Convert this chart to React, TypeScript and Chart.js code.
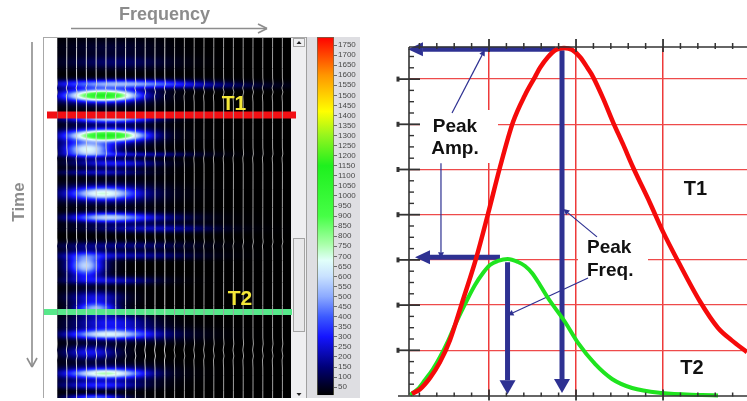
import React, { useEffect, useRef } from "react";
import { Chart, registerables } from "chart.js";
Chart.register(...registerables);

// ---------- spectrogram readings (frequency 0-234, time 0-360, intensity in colour-bar units)
const streakTime = [24, 9, 45, 47, 57, 57, 80, 97, 97, 111, 111, 116, 125, 134, 155, 155, 179, 179, 190, 207, 217, 227, 227, 242, 259, 270, 284, 296, 296, 314, 335, 335, 347, 359];
const streakFreq = [58, 53, 63, 133, 46, 43, 53, 50, 48, 30, 31, 73, 58, 43, 45, 48, 48, 83, 93, 63, 63, 28, 28, 53, 38, 38, 53, 48, 73, 33, 48, 48, 43, 38];
const streakFreqSpread = [40, 35, 50, 60, 22, 32, 30, 24, 32, 14, 22, 45, 30, 30, 20, 36, 25, 40, 45, 50, 50, 10, 16, 32, 20, 14, 28, 26, 40, 20, 24, 36, 28, 20];
const streakTimeSpread = [5, 6, 3, 2.5, 3.5, 6.5, 3, 3.5, 6.5, 4.5, 6, 2, 3, 2.5, 4, 7, 3.5, 3.5, 3, 3, 3, 7, 10, 3, 5, 4, 6, 3.2, 5, 5, 3, 6, 3, 2.5];
const streakLevel = [130, 70, 420, 120, 780, 360, 560, 780, 360, 400, 230, 200, 280, 220, 430, 280, 450, 180, 220, 150, 200, 320, 260, 220, 260, 480, 280, 470, 180, 280, 470, 280, 280, 380];
const traceFreqs = [0, 9.8, 19.6, 29.4, 39.2, 49, 58.8, 68.6, 78.4, 88.2, 98, 107.8, 117.6, 127.4, 137.2, 147, 156.8, 166.6, 176.4, 186.2, 196, 205.8, 215.6, 225.4];
const wiggleTimes = [0, 40, 46, 50, 54, 58, 64, 76, 110, 116, 120, 126, 160, 200, 204, 208, 212, 300, 306, 312, 318, 322, 330, 360];
const wiggleShift = [0, 0, 0.5, -0.5, 0.5, -0.4, 0, 0, 0, 0.4, -0.4, 0, 0, 0, 0.4, -0.4, 0, 0, 0.4, -0.4, 0.4, -0.3, 0, 0];
const bandT1Time = 77;
const bandT2Time = 274;

// ---------- colour bar
const colorValues = [0, 60, 150, 300, 400, 500, 600, 680, 760, 900, 1150, 1300, 1420, 1600, 1790];
const colorStops = [
  [0, 0, 0], [0, 0, 40], [0, 0, 120], [20, 20, 255], [60, 90, 255], [140, 170, 255], [200, 225, 255],
  [225, 255, 250], [170, 255, 170], [70, 255, 70], [30, 240, 30], [150, 245, 30], [255, 255, 0], [255, 150, 0], [255, 0, 0],
];
const colorTicks = [50, 100, 150, 200, 250, 300, 350, 400, 450, 500, 550, 600, 650, 700, 750, 800, 850, 900, 950, 1000, 1050, 1100, 1150, 1200, 1250, 1300, 1350, 1400, 1450, 1500, 1550, 1600, 1650, 1700, 1750];

// ---------- amplitude spectra
const t1Freq = [11.5, 20.7, 32.2, 43.7, 55.2, 69, 85, 98.9, 112.6, 127.6, 141.4, 152.9, 158.6, 167.8, 177, 186.2, 195.4, 204.6, 213.8, 219.5, 231, 242.5, 254, 265.5, 285, 300, 317, 342.5, 363, 379, 396.5];
const t1Amp = [0.04, 0.14, 0.39, 0.74, 1.23, 2.05, 3.02, 4.02, 5.05, 6.05, 6.65, 7.05, 7.25, 7.49, 7.65, 7.69, 7.65, 7.49, 7.23, 7.05, 6.58, 6.05, 5.56, 5.05, 4.26, 3.62, 2.98, 2.08, 1.5, 1.22, 0.96];
const t2Freq = [9.2, 18.4, 26.4, 35.6, 43.7, 52.9, 60.9, 75.9, 83.9, 93.1, 101.1, 110.3, 121.5, 133.3, 141.4, 149.4, 158.6, 167.8, 187.4, 202.3, 221.8, 241.4, 264.4, 298.9, 344.8, 363.2];
const t2Amp = [0.011, 0.144, 0.343, 0.586, 0.852, 1.206, 1.56, 2.157, 2.445, 2.71, 2.887, 2.976, 3.02, 2.954, 2.865, 2.71, 2.445, 2.157, 1.626, 1.162, 0.697, 0.365, 0.166, 0.055, 0.011, 0];
const xTicks = [20, 40, 60, 80, 100, 120, 140, 160, 180, 200, 220, 240, 260, 280, 300, 320, 340, 360, 380];
const yTicks = [0.25, 0.5, 0.75, 1, 1.25, 1.5, 1.75, 2, 2.25, 2.5, 2.75, 3, 3.25, 3.5, 3.75, 4, 4.25, 4.5, 4.75, 5, 5.25, 5.5, 5.75, 6, 6.25, 6.5, 6.75, 7, 7.25, 7.5];

const SANS = '"Liberation Sans", Arial, sans-serif';
const BLUE = "#2e3192";

function rampColor(v: number): number[] {
  if (v <= colorValues[0]) return colorStops[0];
  for (let i = 1; i < colorValues.length; i++) {
    if (v <= colorValues[i]) {
      const f = (v - colorValues[i - 1]) / (colorValues[i] - colorValues[i - 1]);
      return colorStops[i].map((c, k) => colorStops[i - 1][k] + (c - colorStops[i - 1][k]) * f);
    }
  }
  return colorStops[colorStops.length - 1];
}

function text(ctx: any, s: string, x: number, y: number, font: string, color: string, align: any = "center") {
  ctx.font = font;
  ctx.fillStyle = color;
  ctx.textAlign = align;
  ctx.textBaseline = "middle";
  ctx.fillText(s, x, y);
}

function seg(ctx: any, x1: number, y1: number, x2: number, y2: number) {
  ctx.beginPath();
  ctx.moveTo(x1, y1);
  ctx.lineTo(x2, y2);
  ctx.stroke();
}

// Panel furniture and intensity image of the spectrogram
const heatPlugin = {
  id: "heat",
  beforeDraw(chart: any) {
    const ctx = chart.ctx;
    ctx.save();
    ctx.fillStyle = "#fff";
    ctx.fillRect(0, 0, 747, 401);
    ctx.strokeStyle = "#a8a8a8";
    ctx.lineWidth = 1;
    seg(ctx, 43.5, 37, 43.5, 398);
    seg(ctx, 43, 37.5, 306, 37.5);
    ctx.fillStyle = "#efeff1";
    ctx.fillRect(291, 38, 15, 360);
    ctx.fillStyle = "#e8e8ea";
    ctx.strokeStyle = "#a4a4a4";
    ctx.fillRect(293.5, 238.5, 11, 93);
    ctx.strokeRect(293.5, 238.5, 11, 93);
    ctx.strokeRect(293.5, 38.5, 11, 8);
    ctx.fillStyle = "#222";
    ctx.beginPath(); ctx.moveTo(296.5, 44); ctx.lineTo(301.5, 44); ctx.lineTo(299, 41); ctx.fill();
    ctx.beginPath(); ctx.moveTo(296.5, 393); ctx.lineTo(301.5, 393); ctx.lineTo(299, 396); ctx.fill();
    // Frequency / Time direction arrows
    ctx.strokeStyle = "#8d8d8d";
    ctx.lineWidth = 1.6;
    seg(ctx, 71, 28.5, 267, 28.5);
    seg(ctx, 258, 24, 267, 28.5);
    seg(ctx, 258, 33, 267, 28.5);
    seg(ctx, 32, 42, 32, 367);
    seg(ctx, 27, 358, 32, 367);
    seg(ctx, 37, 358, 32, 367);
    text(ctx, "Frequency", 164.5, 15, `bold 18px ${SANS}`, "#8c8c8c");
    ctx.translate(19, 202);
    ctx.rotate(-Math.PI / 2);
    text(ctx, "Time", 0, 0, `bold 17px ${SANS}`, "#8c8c8c");
    ctx.restore();
  },
  beforeDatasetsDraw(chart: any) {
    const { ctx, chartArea: a, scales } = chart;
    const w = Math.round(a.right - a.left);
    const h = Math.round(a.bottom - a.top);
    const off = document.createElement("canvas");
    off.width = w;
    off.height = h;
    const oc = off.getContext("2d")!;
    const img = oc.createImageData(w, h);
    const blobs = chart.data.datasets[0].data.map((p: any) => ({
      cx: scales.x.getPixelForValue(p.x) - a.left,
      cy: scales.y.getPixelForValue(p.y) - a.top,
      sx: Math.abs(scales.x.getPixelForValue(p.x + p.sx) - scales.x.getPixelForValue(p.x)),
      sy: Math.abs(scales.y.getPixelForValue(p.y + p.sy) - scales.y.getPixelForValue(p.y)),
      v: p.v,
    }));
    for (let y = 0; y < h; y++) {
      for (let x = 0; x < w; x++) {
        let v = 0;
        for (const b of blobs) {
          const dx = (x - b.cx) / b.sx;
          const dy = (y - b.cy) / b.sy;
          v += b.v * Math.exp(-0.5 * (dx * dx + dy * dy));
        }
        const c = rampColor(v);
        const i = (y * w + x) * 4;
        img.data[i] = c[0];
        img.data[i + 1] = c[1];
        img.data[i + 2] = c[2];
        img.data[i + 3] = 255;
      }
    }
    oc.putImageData(img, 0, 0);
    ctx.drawImage(off, a.left, a.top);
  },
  afterDraw(chart: any) {
    const ctx = chart.ctx;
    ctx.save();
    text(ctx, "T1", 234, 104, `bold 21px ${SANS}`, "#f4e838");
    text(ctx, "T2", 240, 299, `bold 21px ${SANS}`, "#f4e838");
    ctx.restore();
  },
};

const colorPanelPlugin = {
  id: "colorPanel",
  beforeDraw(chart: any) {
    const ctx = chart.ctx;
    ctx.save();
    ctx.fillStyle = "#dedee2";
    ctx.fillRect(306, 37, 54, 361);
    ctx.strokeStyle = "#a0a0a0";
    ctx.lineWidth = 1;
    seg(ctx, 306.5, 37, 306.5, 398);
    ctx.restore();
  },
};

const spectrumPlugin = {
  id: "spectrum",
  beforeDatasetsDraw(chart: any) {
    const ctx = chart.ctx;
    ctx.save();
    ctx.fillStyle = "#fff";
    ctx.fillRect(420, 110, 78, 53);
    ctx.fillRect(578, 240, 70, 38);
    ctx.restore();
  },
  afterDatasetsDraw(chart: any) {
    const { ctx, chartArea: a, scales } = chart;
    ctx.save();
    // Arrow heads from each arrow dataset's last segment
    chart.data.datasets.forEach((ds: any) => {
      if (!ds.headLength) return;
      const p = ds.data[ds.data.length - 2];
      const q = ds.data[ds.data.length - 1];
      const x1 = scales.x.getPixelForValue(p.x);
      const y1 = scales.y.getPixelForValue(p.y);
      const x2 = scales.x.getPixelForValue(q.x);
      const y2 = scales.y.getPixelForValue(q.y);
      const ang = Math.atan2(y2 - y1, x2 - x1);
      const ux = Math.cos(ang), uy = Math.sin(ang);
      ctx.fillStyle = ds.borderColor;
      ctx.beginPath();
      ctx.moveTo(x2 + ux * ds.headLength, y2 + uy * ds.headLength);
      ctx.lineTo(x2 - uy * ds.headHalf, y2 + ux * ds.headHalf);
      ctx.lineTo(x2 + uy * ds.headHalf, y2 - ux * ds.headHalf);
      ctx.closePath();
      ctx.fill();
    });
    // Axis frame and inward ticks
    ctx.strokeStyle = "#333";
    ctx.lineWidth = 1.6;
    seg(ctx, a.left, a.top, a.right, a.top);
    seg(ctx, a.left, a.top, a.left, a.bottom);
    seg(ctx, 398, a.bottom + 0.5, a.right, a.bottom + 0.5);
    for (const t of scales.x.ticks) {
      const major = t.value % 100 === 0;
      const x = scales.x.getPixelForValue(t.value);
      ctx.lineWidth = major ? 1.8 : 1.5;
      seg(ctx, x, a.top - (major ? 8 : 4), x, a.top + (major ? 5 : 2));
      seg(ctx, x, a.bottom - (major ? 6 : 3), x, a.bottom + (major ? 5 : 1));
    }
    for (const t of scales.y.ticks) {
      const major = Number.isInteger(t.value);
      const y = scales.y.getPixelForValue(t.value);
      ctx.lineWidth = major ? 1.8 : 1.4;
      seg(ctx, major ? 399 : a.left, y, major ? 420 : a.left + 5, y);
      if (major) {
        ctx.lineWidth = 3;
        seg(ctx, 398, y - 2.5, 398, y + 2.5);
      }
    }
    const f = `bold 19px ${SANS}`;
    text(ctx, "Peak", 455, 127, f, "#111");
    text(ctx, "Amp.", 455, 149, f, "#111");
    text(ctx, "Peak", 587, 248, f, "#111", "left");
    text(ctx, "Freq.", 587, 271, f, "#111", "left");
    const g = `bold 20px ${SANS}`;
    text(ctx, "T1", 695.5, 189, g, "#111");
    text(ctx, "T2", 692, 368, g, "#111");
    ctx.restore();
  },
};

const arrow = (label: string, a: number[], b: number[], width: number, headLength: number, headHalf: number) => ({
  type: "line",
  label,
  data: [{ x: a[0], y: a[1] }, { x: b[0], y: b[1] }],
  borderColor: BLUE,
  borderWidth: width,
  pointRadius: 0,
  clip: false,
  headLength,
  headHalf,
});

const canvasStyle: React.CSSProperties = {
  position: "fixed",
  left: 0,
  top: 0,
  width: 747,
  height: 401,
  pointerEvents: "none",
  filter: "blur(0.45px)",
};

export default function App() {
  const heatRef = useRef<HTMLCanvasElement>(null);
  const barRef = useRef<HTMLCanvasElement>(null);
  const specRef = useRef<HTMLCanvasElement>(null);

  useEffect(() => {
    const traceColor = (i: number) => (i === 0 ? "#8a8a8a" : i < 12 ? "#d4d4d4" : "#a0a0a0");
    const heat = new Chart(heatRef.current!, {
      type: "scatter",
      data: {
        datasets: [
          {
            label: "Intensity",
            data: streakTime.map((t, i) => ({ x: streakFreq[i], y: t, sx: streakFreqSpread[i], sy: streakTimeSpread[i], v: streakLevel[i] })),
            pointRadius: 0,
            showLine: false,
          },
          ...traceFreqs.map((f, i) => ({
            type: "line",
            label: `trace ${i}`,
            data: wiggleTimes.map((t, k) => ({ x: f + wiggleShift[k], y: t })),
            borderColor: traceColor(i),
            borderWidth: 1,
            pointRadius: 0,
            tension: 0.3,
          })),
          {
            type: "line",
            label: "T1",
            data: [{ x: -10, y: bandT1Time }, { x: 239, y: bandT1Time }],
            borderColor: "#f20f14",
            borderWidth: 7,
            pointRadius: 0,
            clip: false,
          },
          {
            type: "line",
            label: "T2",
            data: [{ x: -13, y: bandT2Time }, { x: 235, y: bandT2Time }],
            borderColor: "#57e88a",
            borderWidth: 6,
            pointRadius: 0,
            clip: false,
          },
        ],
      } as any,
      options: {
        responsive: false,
        animation: false,
        devicePixelRatio: 1,
        layout: { padding: { left: 57, right: 747 - 291, top: 38, bottom: 3 } },
        plugins: { legend: { display: false }, tooltip: { enabled: false } },
        scales: {
          x: { type: "linear", min: 0, max: 234, display: false },
          y: { type: "linear", min: 0, max: 360, reverse: true, display: false },
        },
      },
      plugins: [heatPlugin],
    } as any);

    const bar = new Chart(barRef.current!, {
      type: "bar",
      data: {
        labels: ["scale"],
        datasets: [
          {
            label: "Colour scale",
            data: [[10, 1790]],
            borderColor: "#6a6a50",
            borderWidth: 1,
            barPercentage: 1,
            categoryPercentage: 1,
            backgroundColor: (c: any) => {
              const s = c.chart.scales.y;
              if (!s || !c.chart.chartArea) return "#000";
              const g = c.chart.ctx.createLinearGradient(0, s.getPixelForValue(10), 0, s.getPixelForValue(1790));
              colorValues.forEach((v, i) => {
                const [r, gg, b] = colorStops[i];
                g.addColorStop(Math.max(0, (v - 10) / 1780), `rgb(${r},${gg},${b})`);
              });
              return g;
            },
          },
        ],
      } as any,
      options: {
        responsive: false,
        animation: false,
        devicePixelRatio: 1,
        layout: { padding: { left: 317, right: 747 - 360, top: 37, bottom: 3 } },
        plugins: { legend: { display: false }, tooltip: { enabled: false } },
        scales: {
          x: { display: false },
          y: {
            position: "right",
            min: 10,
            max: 1790,
            afterBuildTicks: (s: any) => { s.ticks = colorTicks.map((value) => ({ value })); },
            afterFit: (s: any) => { s.width = 26; },
            border: { display: false },
            grid: { drawOnChartArea: false, tickLength: 3, color: "#6a6a6a" },
            ticks: { autoSkip: false, padding: 1, maxRotation: 0, color: "#4a4a4a", font: { size: 8, family: "Liberation Sans" }, callback: (v: any) => String(v) },
          },
        },
      },
      plugins: [colorPanelPlugin],
    } as any);

    const xy = (xs: number[], ys: number[]) => xs.map((x, i) => ({ x, y: ys[i] }));
    const spec = new Chart(specRef.current!, {
      type: "line",
      data: {
        datasets: [
          { label: "T1", data: xy(t1Freq, t1Amp), borderColor: "#f50a0a", borderWidth: 4.5, pointRadius: 0, cubicInterpolationMode: "monotone", clip: false },
          { label: "T2", data: xy(t2Freq, t2Amp), borderColor: "#1fe41f", borderWidth: 4, pointRadius: 0, cubicInterpolationMode: "monotone", clip: false },
          arrow("T1 peak amplitude", [175.9, 7.66], [24.1, 7.66], 5, 15, 7),
          arrow("T1 peak frequency", [183.9, 7.64], [183.9, 0.365], 5, 14, 8),
          arrow("T2 peak amplitude", [112.6, 3.06], [32.2, 3.06], 5, 15, 7),
          arrow("T2 peak frequency", [121.3, 2.95], [121.3, 0.34], 5, 14, 8),
          arrow("note 1", [57.5, 6.25], [92, 7.53], 1.2, 6, 3),
          arrow("note 2", [44.8, 5.14], [44.8, 3.17], 1.2, 6, 3),
          arrow("note 3", [224.1, 3.51], [190.8, 4.04], 1.2, 6, 3),
          arrow("note 4", [213.8, 2.6], [127.6, 1.83], 1.2, 6, 3),
        ],
      } as any,
      options: {
        responsive: false,
        animation: false,
        devicePixelRatio: 1,
        layout: { padding: { left: 409, right: 0, top: 47, bottom: 5.5 } },
        plugins: { legend: { display: false }, tooltip: { enabled: false } },
        scales: {
          x: {
            type: "linear",
            min: 8.05,
            max: 396.5,
            afterBuildTicks: (s: any) => { s.ticks = xTicks.map((value) => ({ value })); },
            afterFit: (s: any) => { s.height = 0; },
            border: { display: false },
            grid: {
              drawTicks: false,
              lineWidth: 1.5,
              color: (c: any) => (c.tick && c.tick.value % 100 === 0 ? "#ee3a3a" : "rgba(0,0,0,0)"),
            },
            ticks: { display: false, autoSkip: false },
          },
          y: {
            type: "linear",
            min: 0,
            max: 7.71,
            afterBuildTicks: (s: any) => { s.ticks = yTicks.map((value) => ({ value })); },
            afterFit: (s: any) => { s.width = 0; },
            border: { display: false },
            grid: {
              drawTicks: false,
              lineWidth: 1.2,
              color: (c: any) => (c.tick && Number.isInteger(c.tick.value) ? "#ee4a4a" : "rgba(0,0,0,0)"),
            },
            ticks: { display: false, autoSkip: false },
          },
        },
      },
      plugins: [spectrumPlugin],
    } as any);

    return () => {
      heat.destroy();
      bar.destroy();
      spec.destroy();
    };
  }, []);

  return (
    <div style={{ width: 747, height: 401, position: "relative" }}>
      <canvas ref={heatRef} width={747} height={401} style={{ ...canvasStyle, filter: "blur(0.7px)" }} />
      <canvas ref={barRef} width={747} height={401} style={canvasStyle} />
      <canvas ref={specRef} width={747} height={401} style={canvasStyle} />
    </div>
  );
}
